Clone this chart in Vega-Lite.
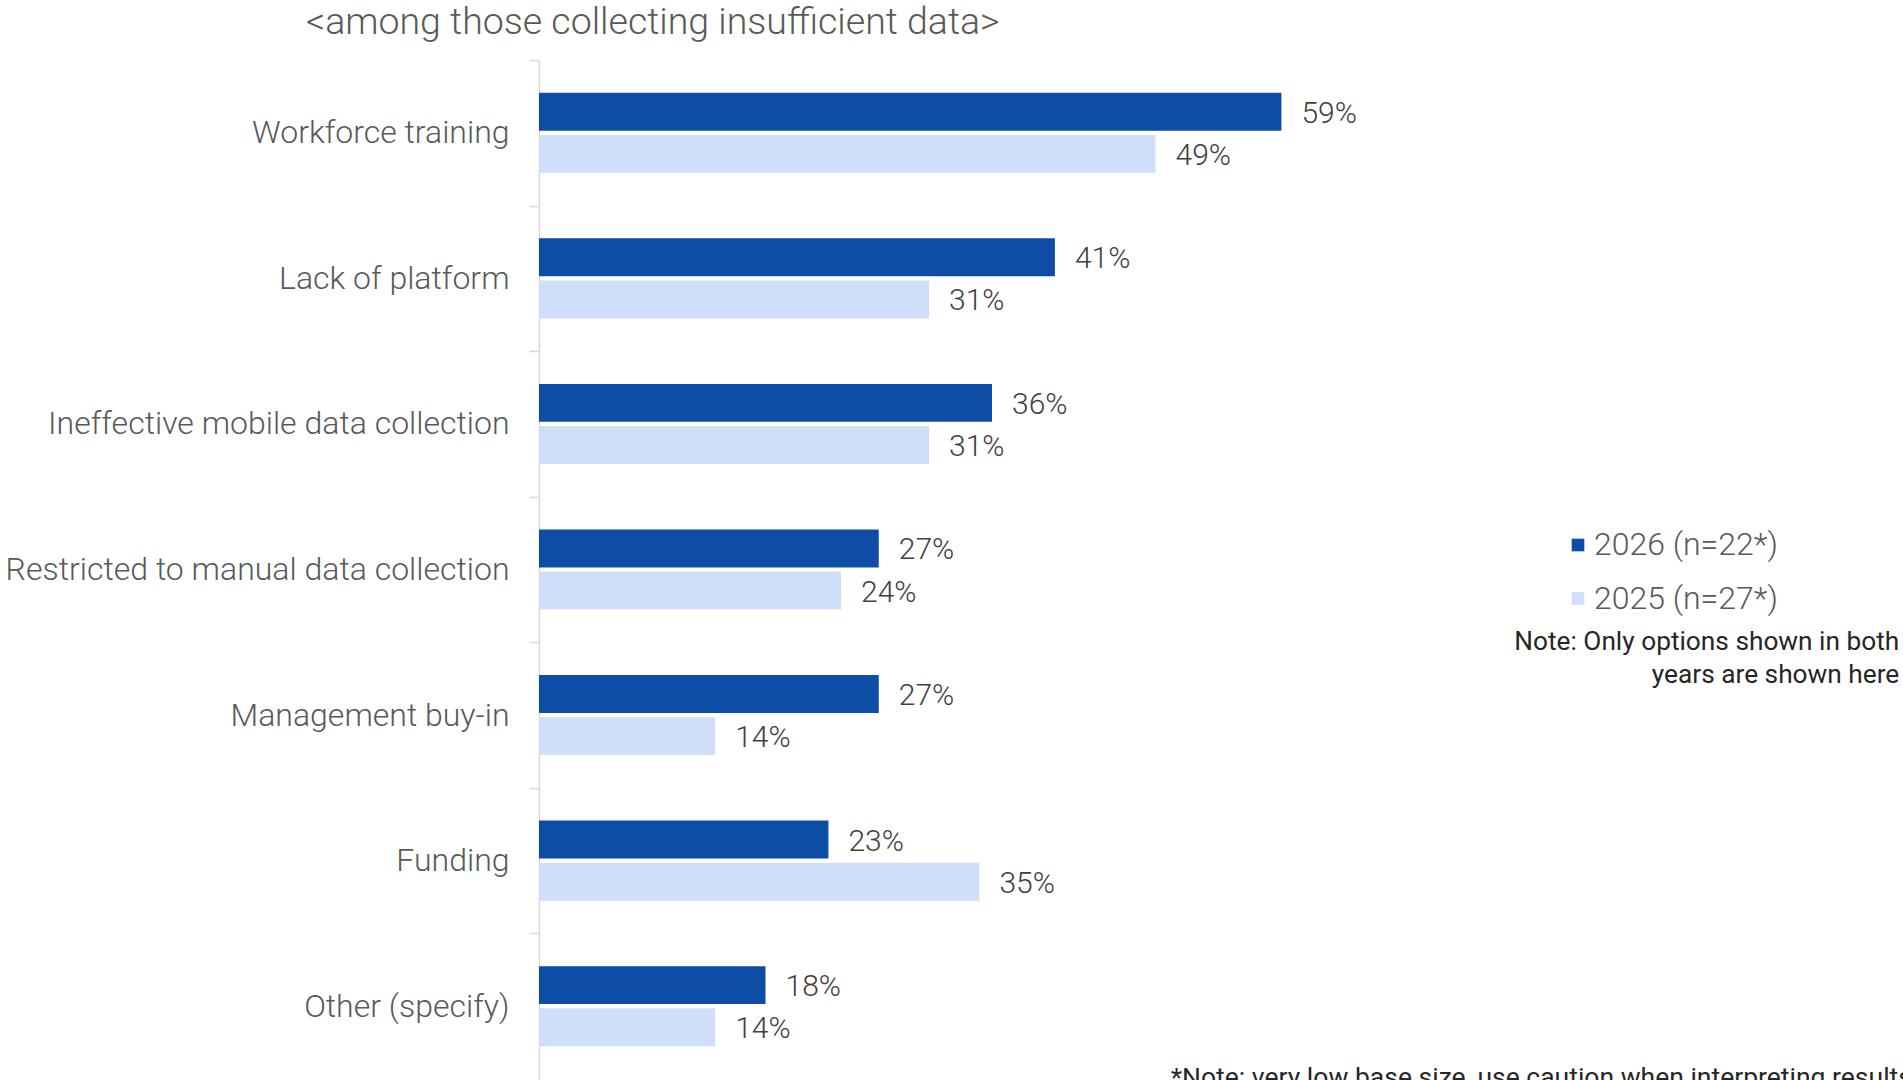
{
  "$schema": "https://vega.github.io/schema/vega-lite/v6.json",
  "width": 1359,
  "height": 1019,
  "autosize": {"type": "none"},
  "padding": {"left": 539, "top": 60, "right": 5, "bottom": 1},
  "background": "white",
  "config": {"view": {"stroke": null}, "font": "Roboto"},
  "data": {
    "values": [
      {"category": "Workforce training", "year": "2026 (n=22*)", "pct": 0.59},
      {"category": "Workforce training", "year": "2025 (n=27*)", "pct": 0.49},
      {"category": "Lack of platform", "year": "2026 (n=22*)", "pct": 0.41},
      {"category": "Lack of platform", "year": "2025 (n=27*)", "pct": 0.31},
      {"category": "Ineffective mobile data collection", "year": "2026 (n=22*)", "pct": 0.36},
      {"category": "Ineffective mobile data collection", "year": "2025 (n=27*)", "pct": 0.31},
      {"category": "Restricted to manual data collection", "year": "2026 (n=22*)", "pct": 0.27},
      {"category": "Restricted to manual data collection", "year": "2025 (n=27*)", "pct": 0.24},
      {"category": "Management buy-in", "year": "2026 (n=22*)", "pct": 0.27},
      {"category": "Management buy-in", "year": "2025 (n=27*)", "pct": 0.14},
      {"category": "Funding", "year": "2026 (n=22*)", "pct": 0.23},
      {"category": "Funding", "year": "2025 (n=27*)", "pct": 0.35},
      {"category": "Other (specify)", "year": "2026 (n=22*)", "pct": 0.18},
      {"category": "Other (specify)", "year": "2025 (n=27*)", "pct": 0.14}
    ]
  },
  "layer": [
    {
      "mark": {"type": "bar"},
      "encoding": {
        "y": {
          "field": "category", "type": "nominal", "sort": null,
          "scale": {"paddingInner": 0.45, "paddingOuter": 0.225},
          "axis": {
            "title": null, "grid": false,
            "domainColor": "#d9d9d9", "domainWidth": 1.5,
            "tickColor": "#d9d9d9", "tickWidth": 1.5, "tickSize": 10,
            "bandPosition": 0, "tickOffset": -32.75, "tickExtra": false, "labelOffset": 32.75,
            "labelFont": "Roboto", "labelFontSize": 32, "labelFontWeight": 300,
            "labelColor": "#595959", "labelPadding": 20, "labelLimit": 700
          }
        },
        "yOffset": {
          "field": "year", "type": "nominal",
          "sort": ["2026 (n=22*)", "2025 (n=27*)"],
          "scale": {"paddingInner": 0.1, "paddingOuter": 0}
        },
        "x": {
          "field": "pct", "type": "quantitative",
          "scale": {"domain": [0, 1.08], "nice": false, "zero": true},
          "axis": null
        },
        "color": {
          "field": "year", "type": "nominal",
          "scale": {"domain": ["2026 (n=22*)", "2025 (n=27*)"], "range": ["#0E4DA6", "#CFDFFA"]},
          "legend": {
            "orient": "none", "legendX": 1023, "legendY": 469, "title": null,
            "symbolType": "square", "symbolSize": 160, "symbolStrokeWidth": 0,
            "labelFont": "Roboto", "labelFontSize": 32, "labelFontWeight": 300,
            "labelColor": "#595959", "labelOffset": 0, "rowPadding": 21.5, "labelLimit": 500
          }
        }
      }
    },
    {
      "mark": {"type": "text", "align": "left", "baseline": "middle", "dx": 20, "dy": 2, "font": "Roboto", "fontSize": 30, "fontWeight": 300, "color": "#404040"},
      "encoding": {
        "y": {"field": "category", "type": "nominal", "sort": null},
        "yOffset": {"field": "year", "type": "nominal", "sort": ["2026 (n=22*)", "2025 (n=27*)"]},
        "x": {"field": "pct", "type": "quantitative"},
        "text": {"field": "pct", "type": "quantitative", "format": ".0%"}
      }
    },
    {
      "data": {"values": [{}]},
      "mark": {"type": "text", "align": "left", "baseline": "alphabetic", "dy": -99, "font": "Roboto", "fontSize": 37.5, "fontWeight": 300, "color": "#595959",
        "text": "<among those collecting insufficient data>"},
      "encoding": {
        "x": {"datum": -0.1852, "type": "quantitative"},
        "y": {"datum": "Workforce training", "type": "nominal"}
      }
    },
    {
      "data": {"values": [{}]},
      "mark": {"type": "text", "align": "right", "baseline": "alphabetic", "dy": 80, "lineHeight": 33, "font": "Roboto", "fontSize": 26.25, "color": "#262626",
        "text": ["Note: Only options shown in both", "years are shown here"]},
      "encoding": {
        "x": {"datum": 1.081, "type": "quantitative"},
        "y": {"datum": "Restricted to manual data collection", "type": "nominal"}
      }
    },
    {
      "data": {"values": [{}]},
      "mark": {"type": "text", "align": "left", "baseline": "alphabetic", "dy": 80, "font": "Roboto", "fontSize": 26.5, "color": "#262626",
        "text": "*Note: very low base size, use caution when interpreting results"},
      "encoding": {
        "x": {"datum": 0.502, "type": "quantitative"},
        "y": {"datum": "Other (specify)", "type": "nominal"}
      }
    }
  ]
}
